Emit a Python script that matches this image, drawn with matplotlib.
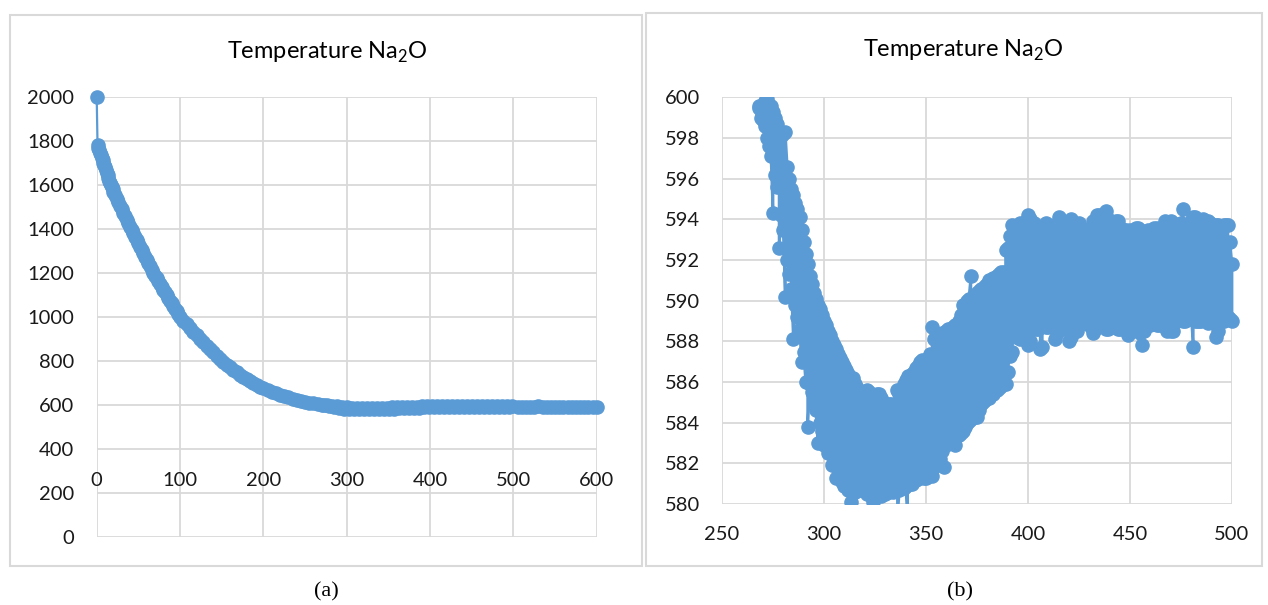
import matplotlib
matplotlib.use("Agg")
import matplotlib.pyplot as plt
from matplotlib.patches import Rectangle

plt.rcParams['font.family'] = ['Lato', 'DejaVu Sans']
plt.rcParams['mathtext.fontset'] = 'custom'
plt.rcParams['mathtext.rm'] = 'Lato'

BLUE = '#5B9BD5'
GRID = '#D9D9D9'

# (a) cooling curve, first part (x = time step)
x_head = ([0] + list(range(1, 21)) + list(range(22, 101, 2)) + list(range(104, 201, 4))
          + list(range(205, 266, 5)))
t_head = [2000,
          1780, 1770, 1758, 1746, 1735, 1724, 1713, 1702, 1691, 1680,
          1668, 1656, 1644, 1632, 1620, 1610, 1600, 1590, 1580, 1570,
          1554, 1538, 1522, 1506, 1490, 1474, 1458, 1442, 1426, 1410,
          1395, 1380, 1364, 1349, 1334, 1319, 1304, 1289, 1274, 1260,
          1245, 1230, 1215, 1201, 1188, 1175, 1162, 1149, 1136, 1124,
          1111, 1099, 1086, 1074, 1062, 1049, 1037, 1025, 1012, 1000,
          983, 966, 950, 933, 917, 901, 885, 869, 853, 838,
          823, 808, 795, 783, 771, 759, 748, 737, 726, 716,
          707, 699, 691, 683, 676,
          668, 660, 653, 646, 640, 634, 628, 623, 618, 614, 610, 606, 603]

# (b) zoomed part, x = 268 .. 500: highest and lowest reading at each step
x_zoom = list(range(268, 501))
t_high = [
    599.6, 599.4,
    599.5, 599.8, 599.9, 599.5, 599.6, 599.3, 599.0, 598.7, 598.3, 598.1,
    598.2, 598.3, 596.6, 596.0, 595.5, 595.2, 594.8, 594.5, 594.1, 593.5,
    592.9, 592.3, 591.8, 591.2, 590.8, 590.4, 590.1, 589.8, 589.6, 589.3,
    589.0, 588.8, 588.5, 588.3, 588.0, 587.8, 587.6, 587.4, 587.2, 587.0,
    586.8, 586.6, 586.4, 586.2, 586.2, 585.9, 585.7, 585.5, 585.4, 585.2,
    585.3, 585.6, 585.5, 585.4, 585.2, 585.3, 585.4, 585.4, 585.2, 585.0,
    584.8, 584.8, 584.9, 584.9, 584.7, 584.5, 585.6, 585.4, 585.6, 585.9,
    586.1, 586.3, 586.3, 586.4, 586.5, 586.7, 586.8, 587.0, 587.1, 587.0,
    587.0, 587.2, 587.4, 588.7, 588.1, 588.2, 588.3, 588.3, 588.4, 588.4,
    588.5, 588.6, 588.6, 588.7, 588.8, 588.8, 589.0, 589.3, 589.8, 589.8,
    590.0, 590.1, 591.2, 590.2, 590.3, 590.4, 590.5, 590.6, 590.6, 590.7,
    590.8, 591.0, 591.0, 591.1, 591.1, 591.2, 591.3, 591.4, 591.4, 592.5,
    592.6, 593.2, 593.7, 593.5, 593.6, 593.7, 593.8, 593.6, 593.7, 593.9,
    594.2, 594.0, 593.7, 593.8, 593.5, 593.6, 593.4, 593.6, 593.5, 593.8,
    593.7, 593.5, 593.6, 593.7, 593.7, 594.1, 593.9, 593.6, 593.8, 593.8,
    593.7, 594.0, 593.6, 593.5, 593.6, 593.8, 593.6, 593.1, 593.2, 593.3,
    593.5, 593.6, 593.9, 593.9, 594.2, 594.2, 593.8, 593.5, 594.4, 594.0,
    593.8, 593.6, 593.6, 593.9, 593.9, 593.6, 593.4, 593.5, 593.5, 593.3,
    593.5, 593.4, 593.3, 593.6, 593.6, 593.5, 593.4, 593.4, 593.3, 593.5,
    593.4, 593.3, 593.6, 593.6, 593.4, 593.4, 593.6, 593.9, 593.8, 593.7,
    593.9, 593.8, 593.5, 593.6, 593.7, 593.8, 594.5, 593.7, 593.6, 593.6,
    593.9, 594.1, 594.1, 594.0, 593.8, 593.9, 594.0, 593.9, 593.9, 593.8,
    593.7, 593.6, 593.7, 593.7, 593.6, 593.6, 593.7, 593.7, 593.7, 592.9,
    591.8,
]
t_low = [
    599.5, 599.0,
    598.9, 598.6, 598.0, 597.6, 597.1, 594.3, 596.2, 595.6, 592.6, 594.2,
    593.5, 590.2, 592.0, 591.3, 590.6, 588.1, 589.8, 589.2, 588.6, 587.0,
    587.5, 586.0, 583.8, 585.9, 585.5, 585.0, 584.6, 583.0, 584.0, 583.6,
    582.9, 583.1, 582.5, 582.6, 581.9, 582.2, 581.3, 581.7, 581.5, 581.1,
    580.9, 581.2, 580.7, 580.1, 580.8, 580.6, 581.0, 580.7, 580.9, 580.7,
    580.9, 580.5, 580.8, 580.4, 580.1, 580.6, 580.5, 580.8, 580.4, 580.6,
    580.5, 580.9, 580.6, 580.8, 580.6, 580.9, 579.4, 580.7, 580.9, 580.8,
    580.9, 579.3, 581.0, 581.0, 581.4, 581.2, 581.4, 581.3, 581.6, 581.3,
    581.3, 581.4, 581.5, 581.4, 581.8, 582.0, 582.4, 582.2, 582.6, 581.8,
    582.9, 583.0, 583.0, 583.2, 582.9, 583.4, 583.4, 583.5, 583.6, 583.8,
    584.0, 584.1, 584.2, 584.3, 584.3, 584.3, 584.6, 584.9, 585.0, 585.1,
    585.3, 585.2, 585.4, 585.4, 585.6, 585.6, 585.7, 585.8, 585.9, 585.9,
    586.5, 587.3, 587.5, 588.4, 588.2, 588.2, 588.1, 588.3, 588.6, 588.4,
    587.8, 588.0, 588.9, 588.7, 588.6, 588.6, 587.6, 587.7, 589.0, 588.7,
    588.7, 588.9, 588.9, 588.1, 588.4, 589.0, 589.0, 588.8, 589.2, 588.6,
    588.0, 588.2, 588.9, 588.6, 588.5, 589.1, 589.1, 588.9, 588.9, 589.0,
    589.0, 588.7, 588.4, 588.6, 588.8, 589.0, 589.0, 588.9, 588.6, 588.6,
    589.1, 589.1, 588.7, 588.7, 588.6, 588.6, 589.0, 589.0, 588.8, 588.3,
    588.5, 588.9, 589.1, 589.1, 588.7, 588.4, 587.8, 588.5, 589.0, 589.0,
    588.8, 589.0, 589.0, 588.8, 588.8, 589.1, 589.1, 588.7, 588.5, 588.7,
    588.5, 588.5, 589.0, 589.0, 589.2, 589.2, 589.0, 589.0, 589.1, 589.3,
    589.3, 587.7, 589.0, 589.0, 589.0, 589.0, 589.1, 589.1, 588.9, 589.0,
    589.0, 588.9, 588.2, 588.5, 589.1, 589.0, 589.0, 589.2, 589.2, 589.1,
    589.0,
]

# (a) tail after x = 500
x_tail = [505, 510, 515, 520, 525, 530, 535, 540, 545, 550, 555, 560, 565, 570, 575,
          580, 585, 590, 595, 600]
t_tail = [590.5, 592.0, 589.8, 591.5, 590.2, 592.3, 589.6, 591.0, 590.8, 592.1, 589.9,
          591.4, 590.6, 591.8, 590.1, 591.2, 590.7, 591.6, 590.3, 591.0]

xticks_a = [0, 100, 200, 300, 400, 500, 600]
yticks_a = [0, 200, 400, 600, 800, 1000, 1200, 1400, 1600, 1800, 2000]
xticks_b = [250, 300, 350, 400, 450, 500]
yticks_b = [580, 582, 584, 586, 588, 590, 592, 594, 596, 598, 600]

# series order: the readings swing between high and low at every step
xs, ts = [], []
for i, x in enumerate(x_zoom):
    pair = (t_high[i], t_low[i]) if i % 2 == 0 else (t_low[i], t_high[i])
    xs += [x, x]
    ts += list(pair)

W, H = 1268, 605
fig = plt.figure(figsize=(W / 100, H / 100), dpi=100)


def px_axes(x0, y0, x1, y1):
    return fig.add_axes([x0 / W, 1 - y1 / H, (x1 - x0) / W, (y1 - y0) / H])


def style(ax):
    for s in ax.spines.values():
        s.set_visible(False)
    ax.grid(True, color=GRID, linewidth=1.3)
    ax.set_axisbelow(True)
    ax.tick_params(length=0, labelsize=14.5, colors='#1a1a1a')


# frames around each panel
fig.patches.append(Rectangle((10 / W, 1 - 566 / H), 632 / W, 551 / H, transform=fig.transFigure,
                             fill=False, edgecolor=GRID, linewidth=1.5))
fig.patches.append(Rectangle((646 / W, 1 - 566 / H), 616 / W, 553 / H, transform=fig.transFigure,
                             fill=False, edgecolor=GRID, linewidth=1.5))

# ---- (a)
ax1 = px_axes(96.7, 97, 596.7, 536.7)
style(ax1)
xa = x_head + xs[4::6] + x_tail
ta = t_head + ts[4::6] + t_tail
ax1.plot(xa, ta, '-o', color=BLUE, lw=1.6, ms=9.5, mec=BLUE, mfc=BLUE, clip_on=False)
ax1.set_xlim(0, 600)
ax1.set_ylim(0, 2000)
ax1.set_xticks(xticks_a)
ax1.set_yticks(yticks_a)
ax1.spines['bottom'].set_position(('data', 300))
ax1.tick_params(axis='x', pad=1)
ax1.tick_params(axis='y', pad=16)

# ---- (b)
ax2 = px_axes(722, 97.4, 1232, 504)
style(ax2)
ax2.plot(xs, ts, '-o', color=BLUE, lw=2.0, ms=9.5, mec=BLUE, mfc=BLUE)
ax2.set_xlim(250, 500)
ax2.set_ylim(580, 600)
ax2.set_xticks(xticks_b)
ax2.set_yticks(yticks_b)
ax2.tick_params(axis='x', pad=16)
ax2.tick_params(axis='y', pad=16)
# let the last points overlap the right edge like in the source
for line in ax2.lines:
    line.set_clip_path(Rectangle((0, 0), 1.03, 1, transform=ax2.transAxes))

fig.text(327.5 / W, 1 - 52 / H, 'Temperature Na$_2$O', ha='center', va='center', fontsize=17)
fig.text(963 / W, 1 - 50 / H, 'Temperature Na$_2$O', ha='center', va='center', fontsize=17)

fig.text(326 / W, 1 - 592 / H, '(a)', ha='center', va='center', fontsize=16,
         family='Liberation Serif')
fig.text(960 / W, 1 - 592 / H, '(b)', ha='center', va='center', fontsize=16,
         family='Liberation Serif')

fig.savefig('out.png', dpi=100)
